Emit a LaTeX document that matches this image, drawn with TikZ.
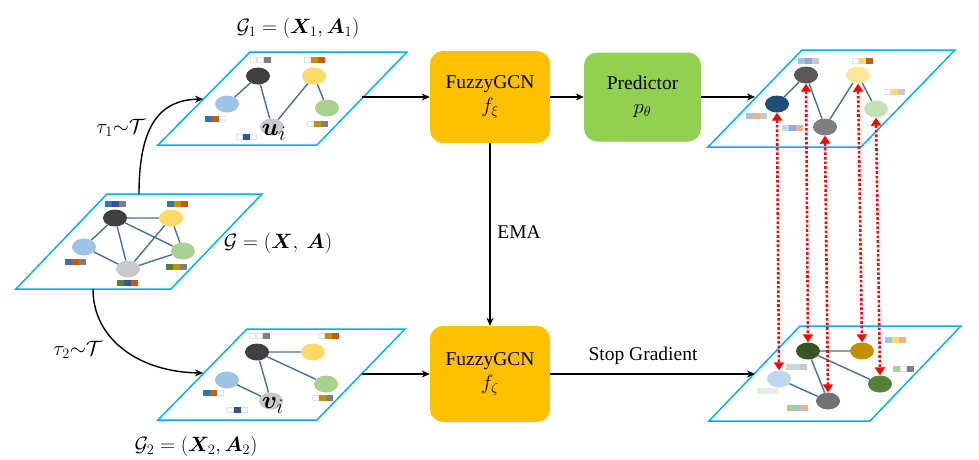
\documentclass[tikz,border=0pt]{standalone}
\usepackage{amsmath,bm}
\usepackage{fontspec}
\setmainfont{Liberation Serif}
\usetikzlibrary{arrows.meta,shapes.geometric,calc}
\definecolor{planec}{HTML}{00B0F0}
\definecolor{edgec}{HTML}{41719C}
\definecolor{boxo}{HTML}{FFC000}
\definecolor{boxg}{HTML}{92D050}
\definecolor{cdark}{HTML}{404040}
\definecolor{cyel}{HTML}{FFD966}
\definecolor{clb}{HTML}{9DC3E6}
\definecolor{cgrn}{HTML}{A9D18E}
\definecolor{cgry}{HTML}{C9C9C9}
\definecolor{rtdark}{HTML}{595959}
\definecolor{rtyel}{HTML}{FFE699}
\definecolor{rtblue}{HTML}{1F4E79}
\definecolor{rtgrn}{HTML}{C5E0B4}
\definecolor{rtgry}{HTML}{7F7F7F}
\definecolor{rbdg}{HTML}{375623}
\definecolor{rbgold}{HTML}{BF9000}
\definecolor{rblb}{HTML}{BDD7EE}
\definecolor{rbgrn}{HTML}{538135}
\definecolor{rbgry}{HTML}{767171}
\definecolor{fblue}{HTML}{2E75B6}
\definecolor{fdblue}{HTML}{2F5597}
\definecolor{fgray}{HTML}{7F7F7F}
\definecolor{fgold}{HTML}{BF9000}
\definecolor{forange}{HTML}{C55A11}
\definecolor{fgreen}{HTML}{548235}
\definecolor{fmb}{HTML}{8FAADC}
\definecolor{flor}{HTML}{F4B183}
\definecolor{fvlg}{HTML}{E2F0D9}
\definecolor{fvlb}{HTML}{DEEBF7}
\definecolor{fvlo}{HTML}{FBE5D6}
\definecolor{cellline}{HTML}{DAE3F3}
\newcommand\fcell[3]{\def\tmpc{#3}\def\whc{wh}\ifx\tmpc\whc
  \draw[cellline,line width=0.8pt,fill=white] (#1+0.5,#2-2.5) rectangle ++(6,5);\else
  \fill[#3] (#1,#2-3) rectangle ++(7,6);\fi}
\newcommand\fbar[5]{\fcell{#1}{#2}{#3}\fcell{#1+7}{#2}{#4}\fcell{#1+14}{#2}{#5}}
\newcommand\bigmath[1]{{\fontsize{22}{24}\selectfont$#1$}}
\begin{document}
\begin{tikzpicture}[x=1pt,y=-1pt,
  plane/.style={draw=planec,line width=1.5pt,line join=miter},
  gnode/.style={ellipse,minimum width=24pt,minimum height=17pt,inner sep=0pt,fill=#1},
  edge/.style={draw=edgec,line width=1.4pt},
  box/.style={rounded corners=13pt,align=center,inner sep=0pt,font=\fontsize{19.5}{24}\selectfont},
  arr/.style={-{Stealth[length=8pt,width=7pt]},line width=1.4pt,black},
  redarr/.style={{Triangle[length=8pt,width=10pt]}-{Triangle[length=8pt,width=10pt]},red,line width=2.6pt,dash pattern=on 2.6pt off 2pt},
  lbl/.style={font=\fontsize{19.5}{24}\selectfont,inner sep=0pt},
  mlbl/.style={font=\fontsize{20.5}{24}\selectfont,inner sep=0pt}]
\useasboundingbox (0,0) rectangle (979,459);
% planes
\draw[plane] (158,145) -- (317,145) -- (407,52) -- (250,52) -- cycle;
\draw[plane] (16,289) -- (171,289) -- (262,194) -- (107,194) -- cycle;
\draw[plane] (158,420) -- (317,420) -- (405,329) -- (247,329) -- cycle;
\draw[plane] (708,147) -- (861,147) -- (955,50) -- (802,50) -- cycle;
\draw[plane] (709,421) -- (870,421) -- (961,326) -- (800,326) -- cycle;
% G1
\node[gnode=cdark] (g1d) at (258,76) {};
\node[gnode=cyel] (g1y) at (314,76) {};
\node[gnode=clb] (g1b) at (227,104) {};
\node[gnode=cgrn] (g1g) at (327,108) {};
\node[gnode=cgry] (g1u) at (272,127) {};
\path[edge] (g1d) -- (g1b) (g1d) -- (g1u) (g1y) -- (g1u) (g1y) -- (g1g);
\node[inner sep=0pt,font=\fontsize{28}{30}\selectfont] (lu) at (274,132) {$\bm{u}_{i}$};
\fbar{250}{60}{wh}{wh}{fgray}
\fbar{304}{60}{wh}{fgold}{forange}
\fbar{205}{119}{fblue}{forange}{wh}
\fbar{307}{124}{wh}{fgold}{fgray}
\fbar{236}{137}{wh}{fdblue}{wh}
% G
\node[gnode=cdark] (gd) at (115,218) {};
\node[gnode=cyel] (gy) at (171,218) {};
\node[gnode=clb] (gb) at (84,247) {};
\node[gnode=cgrn] (gg) at (183,251) {};
\node[gnode=cgry] (gc) at (128,269) {};
\path[edge] (gd) -- (gy) (gd) -- (gb) (gd) -- (gc) (gd) -- (gg) (gy) -- (gc) (gy) -- (gg) (gb) -- (gc) (gc) -- (gg);
\fbar{105}{204}{fblue}{fdblue}{fgray}
\fbar{167}{204}{fblue}{fgold}{forange}
\fbar{65}{262}{fblue}{forange}{fgray}
\fbar{166}{267}{fgreen}{fgold}{fgray}
\fbar{117}{283}{fgreen}{fdblue}{forange}
% G2
\node[gnode=cdark] (g2d) at (257,352) {};
\node[gnode=cyel] (g2y) at (313,352) {};
\node[gnode=clb] (g2b) at (227,380) {};
\node[gnode=cgrn] (g2g) at (326,384) {};
\node[gnode=cgry] (g2v) at (271,401) {};
\path[edge] (g2d) -- (g2y) (g2d) -- (g2v) (g2d) -- (g2g) (g2b) -- (g2v);
\node[inner sep=0pt,font=\fontsize{28}{30}\selectfont] (lv) at (273,405) {$\bm{v}_{i}$};
\fbar{249}{336}{wh}{wh}{fgray}
\fbar{318}{336}{wh}{fgold}{forange}
\fbar{203}{393}{fblue}{forange}{wh}
\fbar{312}{398}{wh}{fgold}{fgray}
\fbar{227}{410}{wh}{fdblue}{wh}
% right top
\node[gnode=rtdark] (rtd) at (806,75) {};
\node[gnode=rtyel] (rty) at (858,75) {};
\node[gnode=rtblue] (rtb) at (777,104) {};
\node[gnode=rtgrn] (rtg) at (876,109) {};
\node[gnode=rtgry] (rtc) at (825,127) {};
\path[edge] (rtb) -- (rtd) (rtd) -- (rtc) (rtc) -- (rty) (rty) -- (rtg);
\fbar{798}{61}{clb}{fmb}{cgry}
\fbar{852}{61}{wh}{cyel}{forange}
\fbar{884}{92}{wh}{cyel}{cgry}
\fbar{746}{116}{clb}{flor}{cgry}
\fbar{782}{128}{rblb}{fmb}{flor}
% right bottom
\node[gnode=rbdg] (rbd) at (808,351) {};
\node[gnode=rbgold] (rby) at (862,351) {};
\node[gnode=rblb] (rbb) at (779,379) {};
\node[gnode=rbgrn] (rbg) at (880,384) {};
\node[gnode=rbgry] (rbc) at (828,401) {};
\path[edge] (rbd) -- (rby) (rbd) -- (rbc) (rbd) -- (rbg) (rbb) -- (rbc);
\fbar{885}{340}{clb}{cyel}{flor}
\fbar{893}{369}{cgrn}{wh}{fgray}
\fbar{786}{367}{rtgrn}{rblb}{cgry}
\fbar{757}{391}{fvlg}{fvlb}{fvlo}
\fbar{787}{408}{cgrn}{clb}{flor}
% boxes
\node[box,fill=boxo,minimum width=120pt,minimum height=92pt] (fx) at (490,97) {FuzzyGCN\\\bigmath{f_{\xi}}};
\node[box,fill=boxg,minimum width=117pt,minimum height=89pt] (pr) at (642.5,97) {Predictor\\\bigmath{p_{\theta}}};
\node[box,fill=boxo,minimum width=120pt,minimum height=96pt] (fz) at (490,374) {FuzzyGCN\\\bigmath{f_{\zeta}}};
% connector coordinates on planes
\coordinate (g1out) at (362,97);
\coordinate (g2out) at (362,374);
\coordinate (rtin) at (755,97);
\coordinate (rbin) at (755,374);
\coordinate (gtop) at (139,194);
\coordinate (gbot) at (93,289);
\coordinate (g1in) at (203,99);
\coordinate (g2in) at (203,373);
\draw[arr] (g1out) -- (fx);
\draw[arr] (fx) -- (pr);
\draw[arr] (pr) -- (rtin);
\draw[arr] (g2out) -- (fz);
\draw[arr] (fz) -- (rbin);
\draw[arr] (fx) -- (fz);
\draw[arr] (gtop) .. controls (139,125) and (160,100) .. (g1in);
\draw[arr] (gbot) .. controls (93,340) and (140,372) .. (g2in);
% red double arrows
\draw[redarr] (rtb.south) -- (rbb.north);
\draw[redarr] (rtd.south) -- (rbd.north);
\draw[redarr] (rtc.south) -- (rbc.north);
\draw[redarr] (rty.south) -- (rby.north);
\draw[redarr] (rtg.south) -- (rbg.north);
% labels
\node[mlbl] (lg1) at (298,28) {$\mathcal{G}_1=(\bm{X}_1,\bm{A}_1)$};
\node[mlbl] (lg) at (278,243) {$\mathcal{G}=(\bm{X},\ \bm{A})$};
\node[mlbl] (lg2) at (196,446) {$\mathcal{G}_2=(\bm{X}_2,\bm{A}_2)$};
\node[mlbl] (lt1) at (121,128) {$\tau_1{\sim}\mathcal{T}$};
\node[mlbl] (lt2) at (78,350) {$\tau_2{\sim}\mathcal{T}$};
\node[lbl] (lema) at (519,232) {EMA};
\node[lbl] (lsg) at (643,356) {Stop Gradient};
\end{tikzpicture}
\end{document}
